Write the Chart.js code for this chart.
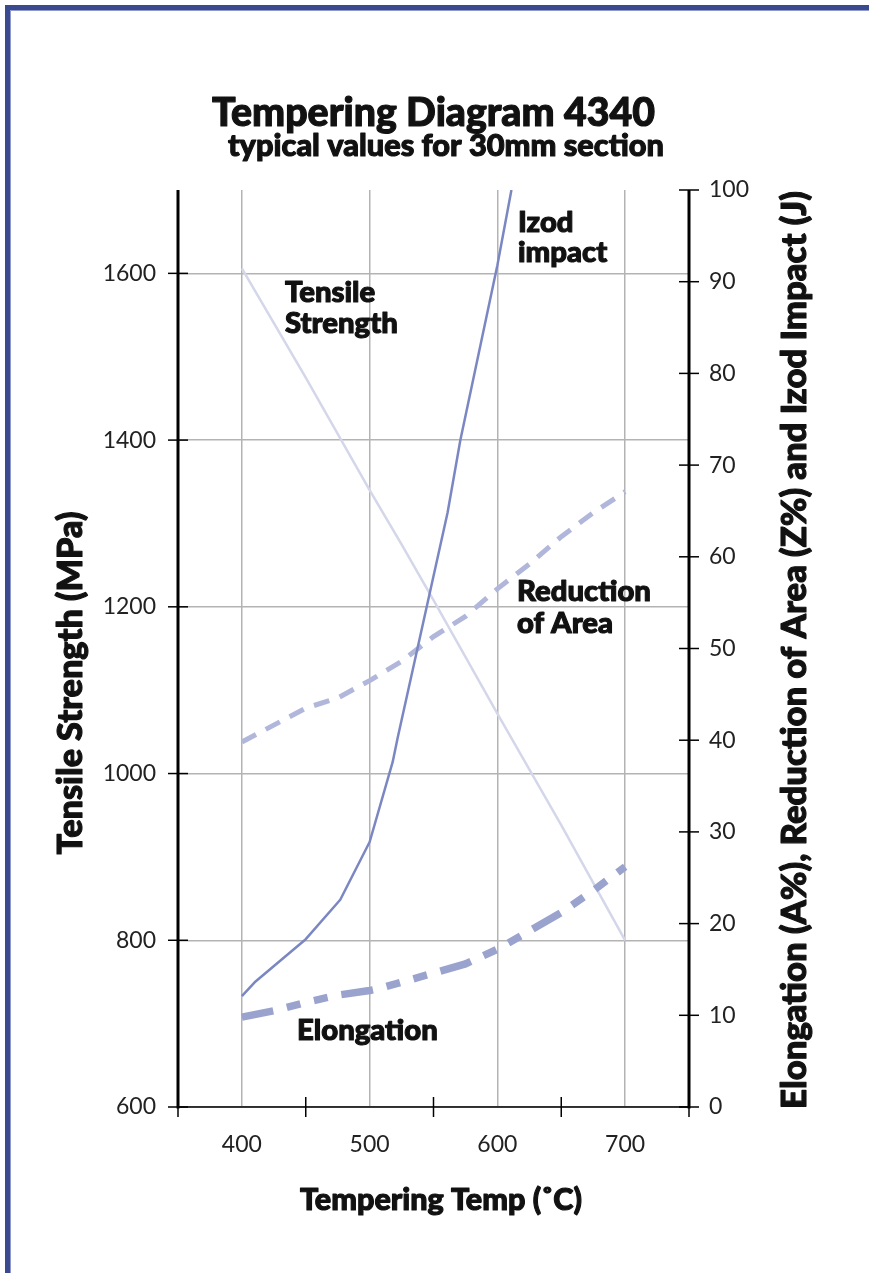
<!DOCTYPE html>
<html>
<head>
<meta charset="utf-8">
<title>Tempering Diagram 4340</title>
<script src="https://cdn.jsdelivr.net/npm/chart.js@4.4.1/dist/chart.umd.min.js"></script>
<style>
  html, body { margin: 0; padding: 0; background: #fff; }
  #wrap { position: relative; width: 869px; height: 1273px; overflow: hidden; }
  #wrap canvas { position: absolute; left: 0; top: 0; }
  #frame {
    position: absolute; left: 5px; top: 5px; width: 900px; height: 1300px;
    border-top: 5px solid #3b4a8e; border-left: 5px solid #3b4a8e;
    box-shadow: inset 1px 1px 0 #8f9bcc;
  }
</style>
</head>
<body>
<div id="wrap">
  <canvas id="chart" width="869" height="1273"></canvas>
  <div id="frame"></div>
</div>
<script>
// Tempering response of 4340 steel, 30 mm section
const tensileTemps = [400, 450, 500, 525, 550, 600, 650, 700];
const tensileMPa   = [1606, 1475, 1340, 1275, 1208, 1072, 938, 800];

const izodTemps = [400, 410, 450, 477, 500, 518, 522, 561, 571, 600, 611];
const izodJ     = [12.1, 13.6, 18.3, 22.6, 28.9, 37.6, 40.3, 64.8, 72.7, 91.8, 100];

const areaTemps = [400, 450, 475, 500, 525, 550, 575, 600, 625, 650, 675, 700];
const areaPct   = [39.8, 43.5, 44.6, 46.5, 48.6, 51.3, 53.5, 56.5, 59.2, 62.2, 64.8, 67.1];

const elongTemps = [400, 425, 450, 475, 500, 507, 550, 575, 600, 625, 650, 675, 700];
const elongPct   = [9.8, 10.5, 11.4, 12.2, 12.7, 12.9, 14.6, 15.6, 17.2, 19.2, 21.2, 23.6, 26.2];

// axis ticks
const tempLabels    = [400, 500, 600, 700];
const tempMarks     = [350, 450, 550, 650, 750];
const strengthTicks = [600, 800, 1000, 1200, 1400, 1600];
const percentTicks  = [0, 10, 20, 30, 40, 50, 60, 70, 80, 90, 100];

const pts = (xs, ys) => xs.map((x, i) => ({ x, y: ys[i] }));

const BOLD = '900';
const FAMILY = 'Lato, "Open Sans", sans-serif';
const HEAVY_FAMILY = '"Lato Black", Lato, "Open Sans", sans-serif';

// size a heavy string so that it spans the given width
function fitFont(ctx, text, width) {
  ctx.font = `${BOLD} 100px ${HEAVY_FAMILY}`;
  const size = 100 * width / ctx.measureText(text).width;
  return `${BOLD} ${size.toFixed(2)}px ${HEAVY_FAMILY}`;
}

// filled text with a thin outline in the same colour for a heavier weight
function heavyText(ctx, text, x, y) {
  ctx.strokeText(text, x, y);
  ctx.fillText(text, x, y);
}

const axisFrame = {
  id: 'axisFrame',
  afterDatasetsDraw(chart) {
    const { ctx, chartArea: a, scales: { x, y, y2 } } = chart;
    const seg = (x1, y1, x2, y2_) => { ctx.beginPath(); ctx.moveTo(x1, y1); ctx.lineTo(x2, y2_); ctx.stroke(); };
    ctx.save();
    ctx.strokeStyle = '#000';
    ctx.lineCap = 'butt';
    ctx.lineWidth = 3;
    seg(a.left, a.top, a.left, a.bottom + 1.5);
    seg(a.right, a.top, a.right, a.bottom + 1.5);
    ctx.lineWidth = 1.5;
    seg(a.left, a.bottom, a.right, a.bottom);
    strengthTicks.forEach(v => { const p = y.getPixelForValue(v); seg(a.left - 10, p, a.left + 10, p); });
    percentTicks.forEach(v => { const p = y2.getPixelForValue(v); seg(a.right - 10, p, a.right + 10, p); });
    tempMarks.forEach(v => { const p = x.getPixelForValue(v); seg(p, a.bottom - 10, p, a.bottom + 10); });
    ctx.restore();
  }
};

const captions = {
  id: 'captions',
  afterDraw(chart) {
    const { ctx } = chart;
    ctx.save();
    ctx.fillStyle = '#111';
    ctx.strokeStyle = '#111';
    ctx.lineWidth = 1.1;
    ctx.lineJoin = 'round';
    ctx.textBaseline = 'alphabetic';

    // heading
    ctx.textAlign = 'center';
    ctx.font = fitFont(ctx, 'Tempering Diagram 4340', 443);
    heavyText(ctx, 'Tempering Diagram 4340', 433.5, 126);
    ctx.font = fitFont(ctx, 'typical values for 30mm section', 436);
    heavyText(ctx, 'typical values for 30mm section', 446, 156);

    // axis titles
    ctx.font = fitFont(ctx, 'Tempering Temp (˚C)', 282);
    heavyText(ctx, 'Tempering Temp (˚C)', 441, 1210);

    ctx.save();
    ctx.translate(82, 683);
    ctx.rotate(-Math.PI / 2);
    ctx.font = fitFont(ctx, 'Tensile Strength (MPa)', 343);
    heavyText(ctx, 'Tensile Strength (MPa)', 0, 0);
    ctx.restore();

    ctx.save();
    ctx.translate(806, 650);
    ctx.rotate(-Math.PI / 2);
    const rt = 'Elongation (A%), Reduction of Area (Z%) and Izod Impact (J)';
    ctx.font = fitFont(ctx, rt, 918);
    heavyText(ctx, rt, 0, 0);
    ctx.restore();

    // series captions
    ctx.textAlign = 'left';
    ctx.font = fitFont(ctx, 'Reduction', 134);
    heavyText(ctx, 'Tensile', 285, 302);
    heavyText(ctx, 'Strength', 285, 333);
    heavyText(ctx, 'Izod', 518, 232);
    heavyText(ctx, 'impact', 518, 262);
    heavyText(ctx, 'Reduction', 517, 601);
    heavyText(ctx, 'of Area', 517, 633);
    heavyText(ctx, 'Elongation', 297, 1040);
    ctx.restore();
  }
};

Chart.defaults.font.family = FAMILY;

new Chart(document.getElementById('chart'), {
  type: 'line',
  data: {
    datasets: [
      {
        label: 'Izod impact',
        data: pts(izodTemps, izodJ),
        yAxisID: 'y2',
        borderColor: '#7b87c2',
        borderWidth: 2.5,
        borderJoinStyle: 'round',
        pointRadius: 0
      },
      {
        label: 'Elongation',
        data: pts(elongTemps, elongPct),
        yAxisID: 'y2',
        borderColor: '#9aa3cd',
        borderWidth: 7.5,
        borderDash: [32, 14, 14, 14, 14, 14],
        pointRadius: 0
      },
      {
        label: 'Reduction of Area',
        data: pts(areaTemps, areaPct),
        yAxisID: 'y2',
        borderColor: '#b1b7da',
        borderWidth: 5,
        borderDash: [16, 11],
        pointRadius: 0
      },
      {
        label: 'Tensile Strength',
        data: pts(tensileTemps, tensileMPa),
        yAxisID: 'y',
        borderColor: '#d4d7ea',
        borderWidth: 2.5,
        borderJoinStyle: 'round',
        pointRadius: 0
      }
    ]
  },
  options: {
    responsive: false,
    animation: false,
    events: [],
    layout: { padding: { top: 190, left: 0, right: 0, bottom: 0 } },
    plugins: { legend: { display: false }, tooltip: { enabled: false }, title: { display: false } },
    scales: {
      x: {
        type: 'linear',
        min: 350, max: 750,
        border: { display: false },
        grid: {
          drawTicks: false,
          lineWidth: 1.5,
          color: c => tempLabels.includes(c.tick.value) ? '#b3b3b3' : 'rgba(0,0,0,0)'
        },
        ticks: {
          stepSize: 50,
          autoSkip: false,
          maxRotation: 0,
          padding: 24,
          color: '#222',
          font: { size: 23, family: FAMILY },
          callback: v => tempLabels.includes(v) ? String(v) : ''
        },
        afterFit: s => { s.height = 166; }
      },
      y: {
        position: 'left',
        min: 600, max: 1700,
        border: { display: false },
        grid: { drawTicks: false, lineWidth: 1.5, color: '#b3b3b3' },
        ticks: {
          stepSize: 200,
          includeBounds: false,
          padding: 22,
          color: '#222',
          font: { size: 23, family: FAMILY },
          callback: v => strengthTicks.includes(v) ? String(v) : ''
        },
        afterFit: s => { s.width = 178; }
      },
      y2: {
        position: 'right',
        min: 0, max: 100,
        border: { display: false },
        grid: { drawOnChartArea: false, drawTicks: false },
        ticks: {
          stepSize: 10,
          padding: 20,
          color: '#222',
          font: { size: 23, family: FAMILY }
        },
        afterFit: s => { s.width = 180; }
      }
    }
  },
  plugins: [axisFrame, captions]
});
</script>
</body>
</html>
